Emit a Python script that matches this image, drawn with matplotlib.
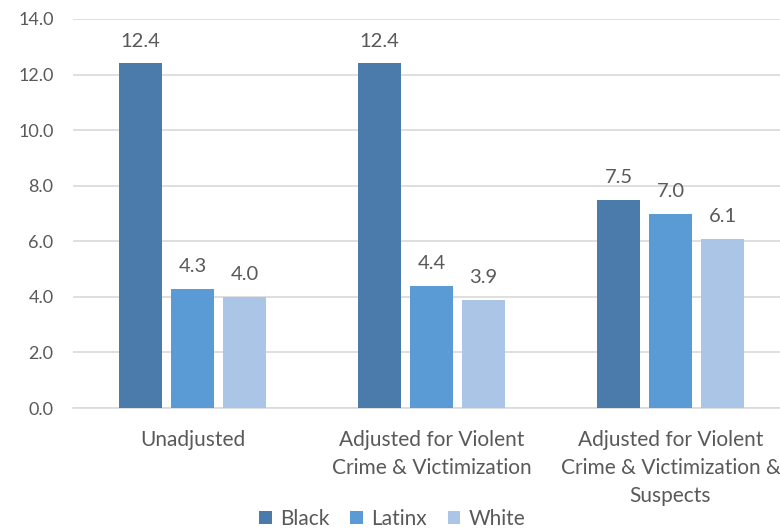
import matplotlib.pyplot as plt
import numpy as np

categories = ["Unadjusted",
              "Adjusted for Violent\nCrime & Victimization",
              "Adjusted for Violent\nCrime & Victimization &\nSuspects"]
series_names = ["Black", "Latinx", "White"]
black = [12.4, 12.4, 7.5]
latinx = [4.3, 4.4, 7.0]
white = [4.0, 3.9, 6.1]
colors = ["#4a7bab", "#5b9bd5", "#aac5e6"]
y_ticks = [0, 2, 4, 6, 8, 10, 12, 14]

txt = "#595959"
plt.rcParams['font.family'] = ['Lato', 'DejaVu Sans']

fig = plt.figure(figsize=(7.8, 5.29), dpi=100)
ax = fig.add_axes([0.0936, 0.2287, 0.9192, 0.7354])

x = np.arange(len(categories))
w = 0.176
step = 0.2176
for i, (vals, name) in enumerate(zip([black, latinx, white], series_names)):
    pos = x + (i - 1) * step
    bars = ax.bar(pos, vals, w, color=colors[i], label=name, zorder=3)
    for b, v in zip(bars, vals):
        ax.text(b.get_x() + b.get_width() / 2, v + 0.5, f"{v:.1f}",
                ha='center', va='bottom', fontsize=14.5, color=txt)

ax.set_xlim(-0.5, 2.5)
ax.set_ylim(0, 14)
ax.set_yticks(y_ticks)
ax.set_yticklabels([f"{t:.1f}" for t in y_ticks])
ax.yaxis.grid(True, color="#d9d9d9", linewidth=1.2, zorder=0)
ax.set_xticks(x)
ax.set_xticklabels(categories, linespacing=1.5, fontsize=15)
ax.tick_params(axis='both', length=0, labelcolor=txt)
ax.tick_params(axis='y', labelsize=13, pad=14)
ax.tick_params(axis='x', pad=16)
for s in ['top', 'right', 'left']:
    ax.spines[s].set_visible(False)
ax.spines['bottom'].set_color("#d9d9d9")
ax.spines['bottom'].set_linewidth(1.2)

# centre the legend on the figure, not on the (overhanging) axes
fig.legend(loc='lower center', bbox_to_anchor=(0.503, -0.019),
           ncol=3, frameon=False, fontsize=15, handlelength=0.6, handleheight=0.6,
           handletextpad=0.4, columnspacing=1.0, borderpad=0, labelcolor=txt)

fig.savefig("out.png", dpi=100)
